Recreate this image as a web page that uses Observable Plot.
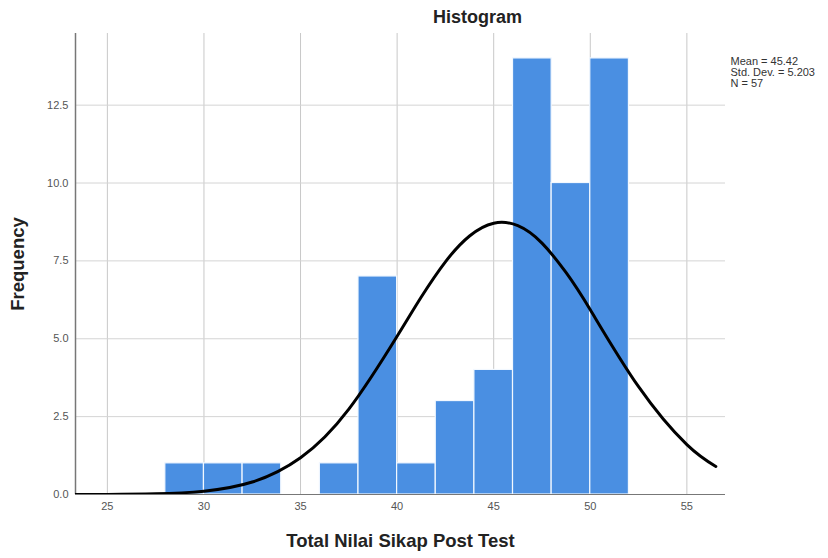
<!DOCTYPE html>
<html>
<head>
<meta charset="utf-8">
<script src="https://cdn.jsdelivr.net/npm/d3@7"></script>
<script src="https://cdn.jsdelivr.net/npm/@observablehq/plot@0.6"></script>
<style>
  html, body { margin: 0; padding: 0; background: #fff; }
  #chart { width: 828px; height: 558px; }
  svg { font-family: "Liberation Sans", Arial, sans-serif; }
</style>
</head>
<body>
<div id="chart"></div>
<script>
// ---- data ----
const binStarts = [28, 30, 32, 34, 36, 38, 40, 42, 44, 46, 48, 50];
const counts    = [1, 1, 1, 0, 1, 7, 1, 3, 4, 14, 10, 14];
const binWidth = 2;
const xTicks = [25, 30, 35, 40, 45, 50, 55];
const yTicks = [0, 2.5, 5, 7.5, 10, 12.5];
const xDomain = [23.35, 57];
const yDomain = [0, 14.8];
// fitted normal curve
const curveX = [23.35, 25, 27.5, 30, 32.5, 35, 37.5, 40, 41.25, 42.5, 43.75, 45, 46.25, 47.5, 48.75, 50, 52.5, 55, 56.5];
const curveY = [0.001, 0.004, 0.023, 0.108, 0.40, 1.18, 2.74, 5.08, 6.34, 7.47, 8.30, 8.71, 8.63, 8.07, 7.12, 5.93, 3.46, 1.60, 0.90];
const statLines = ["Mean = 45.42", "Std. Dev. = 5.203", "N = 57"];
const titleText = "Histogram";
const xLabel = "Total Nilai Sikap Post Test";
const yLabel = "Frequency";

const bars = binStarts.map((s, i) => ({x1: s, x2: s + binWidth, y: counts[i]})).filter(d => d.y > 0);
const curve = curveX.map((x, i) => ({x, y: curveY[i]}));

const chart = Plot.plot({
  width: 828,
  height: 558,
  marginLeft: 75,
  marginRight: 103,
  marginTop: 33,
  marginBottom: 64,
  style: {fontFamily: '"Liberation Sans", Arial, sans-serif', background: "#fff", overflow: "visible"},
  x: {domain: xDomain, ticks: xTicks},
  y: {domain: yDomain, ticks: yTicks},
  marks: [
    Plot.gridX(xTicks, {stroke: "#c8c8c8", strokeOpacity: 1, strokeWidth: 1}),
    Plot.gridY(yTicks.filter(d => d > 0), {stroke: "#d4d4d4", strokeOpacity: 1, strokeWidth: 1}),
    Plot.rectY(bars, {x1: "x1", x2: "x2", y: "y", fill: "#4a8fe2", stroke: "#f2f8ff", strokeWidth: 1.2}),
    Plot.ruleY([0], {stroke: "#777", strokeWidth: 1}),
    Plot.ruleX([xDomain[0]], {stroke: "#777", strokeWidth: 1.5}),
    Plot.line(curve, {x: "x", y: "y", curve: "natural", stroke: "#000", strokeWidth: 3, clip: true}),
    Plot.axisX(xTicks, {tickSize: 0, tickPadding: 8, fontSize: 11, fill: "#555", label: null}),
    Plot.axisY(yTicks, {tickSize: 0, tickPadding: 7, fontSize: 11, fill: "#555", label: null, tickFormat: d3.format(".1f")}),
    Plot.text([xLabel], {frameAnchor: "bottom", lineAnchor: "middle", dy: 47, fontSize: 18.5, fontWeight: "bold", fill: "#222"}),
    Plot.text([yLabel], {frameAnchor: "left", textAnchor: "middle", lineAnchor: "middle", dx: -57, rotate: -90, fontSize: 18.5, fontWeight: "bold", fill: "#222"}),
    Plot.text([titleText], {frameAnchor: "top", lineAnchor: "middle", dx: 77, dy: -16, fontSize: 18, fontWeight: "bold", fill: "#222"}),
    Plot.text([statLines.join("\n")], {frameAnchor: "top-right", lineAnchor: "top", dx: 5, dy: 24, textAnchor: "start", lineHeight: 1.0, fontSize: 11, fill: "#333"})
  ]
});
document.getElementById("chart").appendChild(chart);
</script>
</body>
</html>
